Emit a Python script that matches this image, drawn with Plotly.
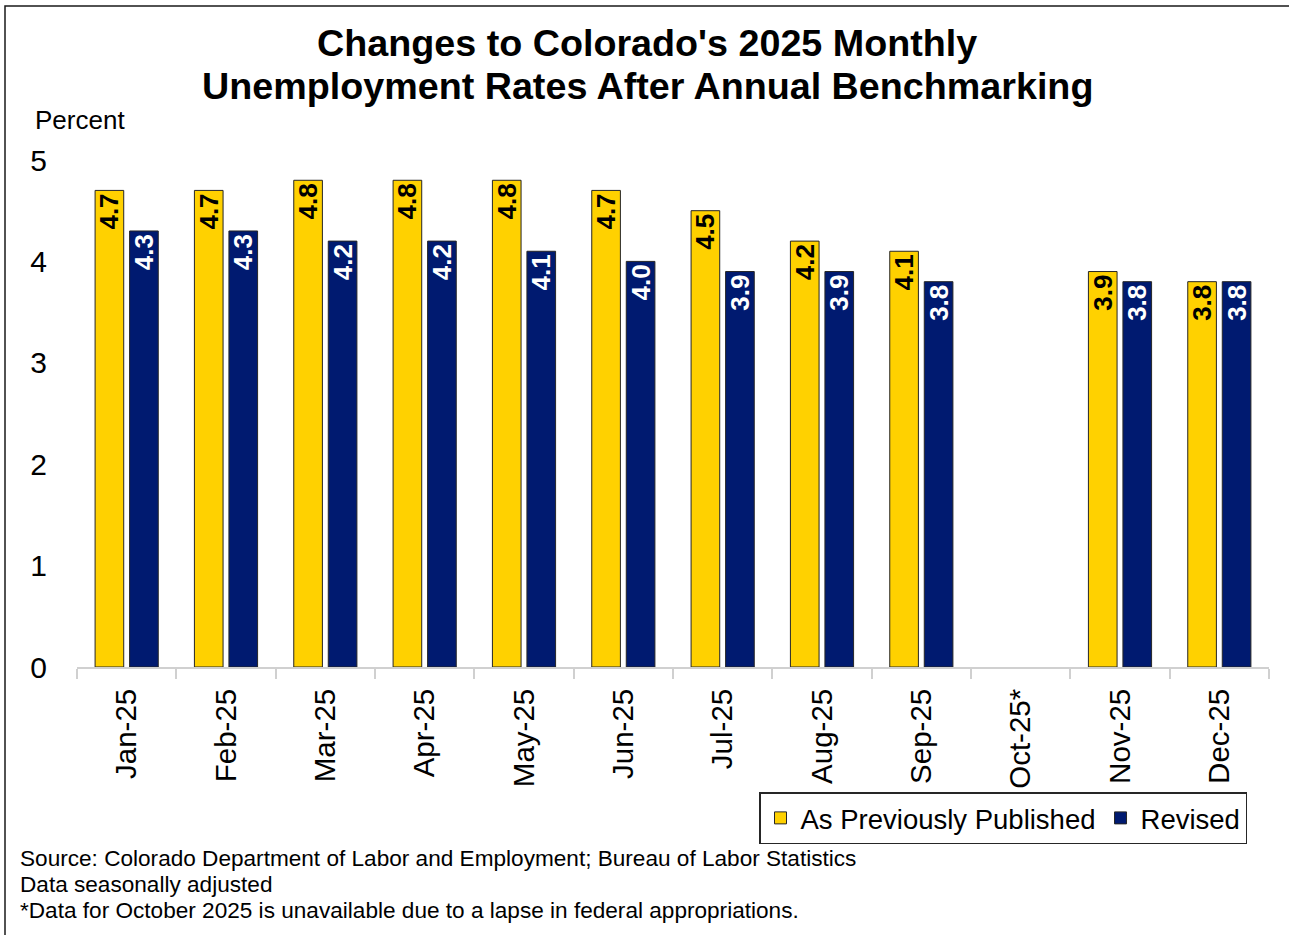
import plotly.graph_objects as go

months = ["Jan-25", "Feb-25", "Mar-25", "Apr-25", "May-25", "Jun-25",
          "Jul-25", "Aug-25", "Sep-25", "Oct-25*", "Nov-25", "Dec-25"]
previously_published = [4.7, 4.7, 4.8, 4.8, 4.8, 4.7, 4.5, 4.2, 4.1, None, 3.9, 3.8]
revised = [4.3, 4.3, 4.2, 4.2, 4.1, 4.0, 3.9, 3.9, 3.8, None, 3.8, 3.8]
y_ticks = [0, 1, 2, 3, 4, 5]

FONT = "Liberation Sans, Arial, sans-serif"
W, H = 1289, 935
L, R, T, B = 77, 1269, 160, 667


def px(x):
    return (x - L) / (R - L)


def py(y):
    return (B - y) / (B - T)


def fmt(v):
    return "" if v is None else f"{v:.1f}"


fig = go.Figure()
fig.add_trace(go.Bar(
    x=months, y=previously_published, name="As Previously Published",
    marker=dict(color="#FFD100", line=dict(color="#262626", width=1)),
    text=[fmt(v) for v in previously_published],
    textposition="inside", insidetextanchor="end", textangle=-90,
    constraintext="none",
    textfont=dict(family=FONT, size=26, color="black", weight="bold"),
    hoverinfo="x+y",
))
fig.add_trace(go.Bar(
    x=months, y=revised, name="Revised",
    marker=dict(color="#001A70", line=dict(color="#262626", width=1)),
    text=[fmt(v) for v in revised],
    textposition="inside", insidetextanchor="end", textangle=-90,
    constraintext="none",
    textfont=dict(family=FONT, size=26, color="white", weight="bold"),
    hoverinfo="x+y",
))

annotations = [
    dict(text="<b>Changes to Colorado's 2025 Monthly</b>", x=px(647), y=py(43),
         font=dict(size=37.7, family=FONT, color="black")),
    dict(text="<b>Unemployment Rates After Annual Benchmarking</b>", x=px(647), y=py(86),
         font=dict(size=37.7, family=FONT, color="black")),
    dict(text="Percent", x=px(33), y=py(120), xanchor="left",
         font=dict(size=26, family=FONT, color="black")),
    dict(text="Source: Colorado Department of Labor and Employment; Bureau of Labor Statistics",
         x=px(18), y=py(858), xanchor="left", font=dict(size=22.6, family=FONT, color="black")),
    dict(text="Data seasonally adjusted",
         x=px(18), y=py(884), xanchor="left", font=dict(size=22.6, family=FONT, color="black")),
    dict(text="*Data for October 2025 is unavailable due to a lapse in federal appropriations.",
         x=px(18), y=py(910), xanchor="left", font=dict(size=22.6, family=FONT, color="black")),
]
for a in annotations:
    a.update(xref="paper", yref="paper", showarrow=False)
    a.setdefault("xanchor", "center")
    a["yanchor"] = "middle"

fig.update_layout(
    width=W, height=H,
    margin=dict(l=L, r=W - R, t=T, b=H - B, pad=0),
    paper_bgcolor="white", plot_bgcolor="white",
    barmode="group", bargap=0.305, bargroupgap=0.17,
    font=dict(family=FONT, color="black"),
    showlegend=True,
    legend=dict(orientation="h", x=px(1247), xanchor="right", y=py(792), yanchor="top",
                bordercolor="#262626", borderwidth=1.5,
                font=dict(size=27.5, family=FONT, color="black"),
                traceorder="normal", itemwidth=30),
    annotations=annotations,
    shapes=[dict(type="rect", xref="paper", yref="paper",
                 x0=px(5), x1=px(1300), y0=py(945), y1=py(6),
                 line=dict(color="#1a1a1a", width=1.5), fillcolor="rgba(0,0,0,0)",
                 layer="below")],
)
fig.update_xaxes(
    type="category", showgrid=False, showline=True, linecolor="#d0d0d0", linewidth=2,
    ticks="outside", tickson="boundaries", ticklen=10, tickcolor="#d0d0d0", tickwidth=2,
    tickangle=-90, tickfont=dict(size=29.5, family=FONT, color="black"),
    ticklabelstandoff=8,
)
fig.update_yaxes(
    range=[0, 5], tickvals=y_ticks, ticktext=[str(v) for v in y_ticks],
    showgrid=False, showline=False, zeroline=False, ticks="",
    tickfont=dict(size=30, family=FONT, color="black"), ticklabelstandoff=29,
)

fig.write_html("out.html", config={"displayModeBar": False},
               post_script="document.body.style.margin='0';document.body.style.overflow='hidden';")
